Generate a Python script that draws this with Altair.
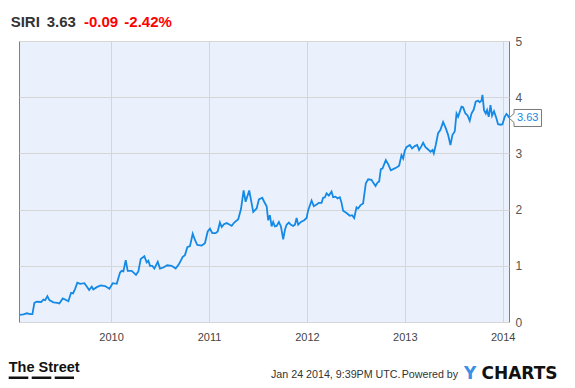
import altair as alt
import pandas as pd

# ---------------- data ----------------
years = [2009.071, 2009.105, 2009.140, 2009.173, 2009.197, 2009.217, 2009.242, 2009.286, 2009.309, 2009.327,
         2009.350, 2009.370, 2009.411, 2009.452, 2009.472, 2009.507, 2009.531, 2009.564, 2009.592, 2009.612,
         2009.633, 2009.656, 2009.684, 2009.728, 2009.752, 2009.776, 2009.803, 2009.819, 2009.854, 2009.895,
         2009.939, 2009.983,
         2010.017, 2010.058, 2010.092, 2010.109, 2010.126, 2010.150, 2010.170, 2010.211, 2010.255, 2010.279,
         2010.303, 2010.340, 2010.364, 2010.381, 2010.398, 2010.421, 2010.442, 2010.477, 2010.500, 2010.534,
         2010.574, 2010.619, 2010.660, 2010.694, 2010.732, 2010.755, 2010.779, 2010.806, 2010.834, 2010.857,
         2010.881, 2010.926, 2010.959, 2010.987,
         2011.010, 2011.034, 2011.068, 2011.089, 2011.112, 2011.130, 2011.153, 2011.181, 2011.204, 2011.232,
         2011.258, 2011.299, 2011.327, 2011.354, 2011.374, 2011.411, 2011.436, 2011.452, 2011.487, 2011.510,
         2011.544, 2011.564, 2011.589, 2011.605, 2011.622, 2011.640, 2011.656, 2011.673, 2011.691, 2011.714,
         2011.735, 2011.758, 2011.776, 2011.793, 2011.816, 2011.837, 2011.860, 2011.878, 2011.895, 2011.911,
         2011.939, 2011.972, 2011.997,
         2012.013, 2012.048, 2012.071, 2012.099, 2012.122, 2012.150, 2012.166, 2012.184, 2012.201, 2012.224,
         2012.252, 2012.268, 2012.293, 2012.313, 2012.337, 2012.354, 2012.370, 2012.405, 2012.439, 2012.462,
         2012.483, 2012.507, 2012.523, 2012.548, 2012.574, 2012.602, 2012.626, 2012.660, 2012.677, 2012.701,
         2012.721, 2012.738, 2012.755, 2012.772, 2012.806, 2012.830, 2012.857, 2012.881, 2012.915, 2012.942,
         2012.966, 2012.983,
         2013.000, 2013.017, 2013.051, 2013.074, 2013.102, 2013.126, 2013.146, 2013.170, 2013.187, 2013.211,
         2013.238, 2013.262, 2013.283, 2013.296, 2013.316, 2013.340, 2013.364, 2013.391, 2013.418, 2013.442,
         2013.466, 2013.487, 2013.510, 2013.528, 2013.544, 2013.579, 2013.595, 2013.619, 2013.640, 2013.663,
         2013.681, 2013.704, 2013.724, 2013.748, 2013.765, 2013.783, 2013.793, 2013.809, 2013.827, 2013.840,
         2013.857, 2013.875, 2013.891, 2013.911, 2013.936, 2013.952, 2013.980, 2013.997,
         2014.020, 2014.038, 2014.054, 2014.064]

prices = [0.125, 0.137, 0.155, 0.14, 0.14, 0.34, 0.36, 0.356, 0.40, 0.39,
          0.46, 0.39, 0.35, 0.34, 0.33, 0.42, 0.40, 0.37, 0.52, 0.51,
          0.59, 0.70, 0.68, 0.69, 0.63, 0.57, 0.63, 0.58, 0.62, 0.65,
          0.64, 0.59,
          0.69, 0.68, 0.88, 0.91, 0.90, 1.10, 0.91, 0.91, 0.84, 0.90,
          1.12, 1.17, 1.06, 1.09, 1.00, 1.00, 0.95, 1.07, 0.95, 0.97,
          1.01, 1.00, 0.95, 1.03, 1.16, 1.19, 1.33, 1.35, 1.57, 1.46,
          1.37, 1.36, 1.40, 1.61,
          1.66, 1.58, 1.58, 1.61, 1.77, 1.69, 1.74, 1.76, 1.74, 1.71,
          1.77, 1.83, 2.01, 2.34, 2.14, 2.34, 2.11, 1.96, 2.02, 2.18,
          2.21, 2.14, 2.06, 1.81, 1.90, 1.70, 1.78, 1.70, 1.71, 1.78,
          1.70, 1.47, 1.64, 1.73, 1.77, 1.73, 1.71, 1.73, 1.85, 1.73,
          1.78, 1.81, 1.85,
          1.99, 2.16, 2.06, 2.09, 2.12, 2.12, 2.21, 2.22, 2.29, 2.25,
          2.32, 2.22, 2.23, 2.20, 2.22, 2.12, 1.98, 1.94, 1.89, 1.90,
          1.85, 2.04, 2.02, 2.08, 2.11, 2.47, 2.54, 2.53, 2.48, 2.42,
          2.48, 2.50, 2.72, 2.73, 2.88, 2.81, 2.70, 2.72, 2.75, 2.78,
          2.97, 2.91,
          3.05, 3.11, 3.15, 3.09, 3.13, 3.15, 3.06, 3.13, 3.19, 3.11,
          3.07, 3.03, 3.06, 3.00, 3.15, 3.36, 3.42, 3.56, 3.45, 3.33,
          3.15, 3.33, 3.39, 3.71, 3.65, 3.83, 3.82, 3.71, 3.68, 3.58,
          3.71, 3.78, 3.92, 3.94, 3.91, 3.94, 4.04, 3.77, 3.71, 3.77,
          3.65, 3.86, 3.67, 3.75, 3.62, 3.52, 3.51, 3.52,
          3.65, 3.70, 3.67, 3.63]

x_ticks = [2010, 2011, 2012, 2013, 2014]
y_ticks = [0, 1, 2, 3, 4, 5]

ticker = "SIRI"
last_price = "3.63"
change = "-0.09"
change_pct = "-2.42%"
timestamp = "Jan 24 2014, 9:39PM UTC."
powered = "Powered by"
brand_left = "The Street"
brand_right_first = "Y"
brand_right_rest = "CHARTS"

# ---------------- chart ----------------
FONT = "Liberation Sans, Arial, sans-serif"
LINE_COLOR = "#1589e6"

df = pd.DataFrame({"year": years, "price": prices})

x_enc = alt.X(
    "year:Q",
    scale=alt.Scale(domain=[2009.06, 2014.064], nice=False, zero=False),
    axis=alt.Axis(values=x_ticks, format="d", title=None, ticks=False, tickSize=0,
                  domain=False, labelPadding=9, labelFont=FONT, labelFontSize=11,
                  labelColor="#444444", gridColor="#d6d6d6", labelFlush=False),
)
y_enc = alt.Y(
    "price:Q",
    scale=alt.Scale(domain=[0, 5], nice=False, zero=True),
    axis=alt.Axis(orient="right", values=y_ticks, format="d", title=None, ticks=False, tickSize=0,
                  domain=False, labelPadding=6, labelFont=FONT, labelFontSize=12,
                  labelColor="#555555", gridColor="#d6d6d6", labelFlush=False),
)

line = alt.Chart(df).mark_line(color=LINE_COLOR, strokeWidth=1.8, clip=True).encode(x=x_enc, y=y_enc)

last = pd.DataFrame({"year": [years[-1]], "price": [prices[-1]], "label": [f"{prices[-1]:.2f}"]})
callout = alt.Chart(last).mark_point(
    shape="M0,0L5,-4.5L5,-8.5L32.5,-8.5L32.5,8.5L5,8.5L5,4.5Z",
    size=4, filled=True, fill="white", stroke="#7a7a7a", strokeWidth=1,
    opacity=1, fillOpacity=1, strokeOpacity=1,
).encode(x="year:Q", y="price:Q")
callout_text = alt.Chart(last).mark_text(
    align="left", baseline="middle", dx=8, dy=0.5, font=FONT, fontSize=11, color=LINE_COLOR
).encode(x="year:Q", y="price:Q", text="label:N")


def label(text, x, y, color, size, weight="normal", font=FONT, align="left"):
    return alt.Chart(pd.DataFrame({"t": [text]})).mark_text(
        align=align, baseline="alphabetic", font=font, fontSize=size,
        fontWeight=weight, color=color,
    ).encode(text="t:N", x=alt.value(x), y=alt.value(y))


header = [
    label(ticker, -8.3, -14, "#333333", 15, "bold"),
    label(last_price, 27.7, -14, "#333333", 15, "bold"),
    label(change, 65, -14, "#ff0000", 15, "bold"),
    label(change_pct, 105.3, -14, "#ff0000", 15, "bold"),
]

footer = [
    label(brand_left, -10.3, 330.7, "#111111", 14.5, "bold"),
    label(timestamp, 252, 336.7, "#333333", 10.7),
    label(powered, 382.7, 336.7, "#333333", 10.7),
    label(brand_right_first, 445, 337.5, "#3a8fe6", 17, "bold", font="DejaVu Sans, sans-serif"),
    label(brand_right_rest, 462.5, 337.5, "#111111", 17, "bold", font="DejaVu Sans, sans-serif"),
]

dashes = alt.Chart(pd.DataFrame({"a": [0]})).mark_rule(
    color="#111111", strokeWidth=2.5, strokeDash=[19.6, 3.4]
).encode(x=alt.value(-10.3), x2=alt.value(55), y=alt.value(336.8))

chart = alt.layer(line, callout, callout_text, *header, *footer, dashes).properties(
    width=490,
    height=281,
    padding={"left": 11, "top": 33, "right": 57, "bottom": 63},
    autosize=alt.AutoSizeParams(type="none"),
    background="white",
).configure_view(
    fill="#eaf1fc", stroke="#7f7f7f", strokeWidth=1
)

chart.save("out.html", embed_options={"renderer": "svg", "actions": False})
